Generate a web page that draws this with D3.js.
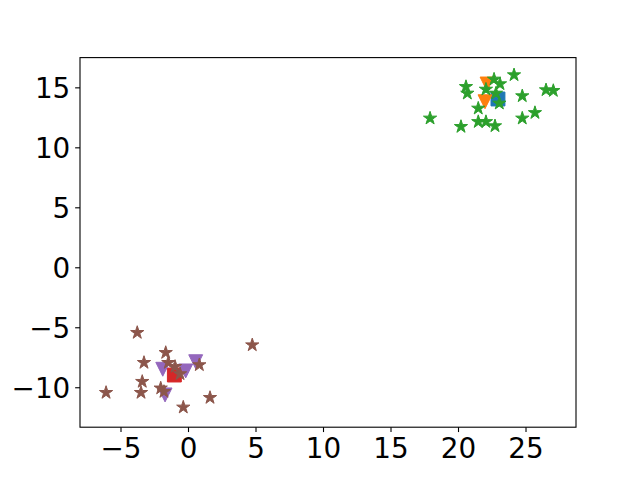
<!DOCTYPE html>
<html>
<head>
<meta charset="utf-8">
<script src="https://cdn.jsdelivr.net/npm/d3@7"></script>
<style>
  body { margin: 0; background: #fff; }
  svg { display: block; }
</style>
</head>
<body>
<script>
// cluster A (top right)
const blueSquares = [[22.96, 14.03]];
const orangeTriangles = [[22.0, 13.8], [22.15, 15.28]];
const greenStars = [
  [17.93, 12.42], [20.22, 11.72], [20.59, 15.05], [20.69, 14.5], [21.5, 13.25],
  [21.5, 12.13], [22.07, 12.13], [22.74, 11.78], [22.67, 15.67], [23.11, 15.28],
  [22.07, 14.83], [22.81, 14.5], [23.06, 13.67], [24.15, 16.03], [24.76, 14.28],
  [24.76, 12.42], [25.7, 12.88], [26.52, 14.78], [27.06, 14.72]
];
// cluster B (bottom left)
const redSquares = [[-1.01, -8.98]];
const purpleTriangles = [[-1.87, -8.5], [-0.17, -8.64], [0.57, -7.87], [-1.7, -10.64]];
const brownStars = [
  [-3.76, -5.45], [4.76, -6.48], [-1.65, -7.12], [-3.26, -7.95], [-1.46, -7.95],
  [-0.96, -8.28], [-0.59, -8.89], [0.84, -8.14], [-3.39, -9.53], [-3.48, -10.45],
  [-6.07, -10.45], [-2.02, -10.08], [-1.78, -10.37], [1.63, -10.87], [-0.35, -11.67]
];
const xTicks = [-5, 0, 5, 10, 15, 20, 25];
const yTicks = [-10, -5, 0, 5, 10, 15];

const W = 640, H = 480;
const margin = { top: 57.6, right: 64, bottom: 52.8, left: 80 };

const svg = d3.select('body').append('svg')
  .attr('width', W)
  .attr('height', H);

const x = d3.scaleLinear().domain([-8.0, 28.74]).range([margin.left, W - margin.right]);
const y = d3.scaleLinear().domain([-13.33, 17.48]).range([H - margin.bottom, margin.top]);

const S = 13.9; // marker size in px (s=100)

// marker paths centred on 0,0
function starPath(r) {
  const ri = r * 0.381966;
  let p = '';
  for (let i = 0; i < 10; i++) {
    const a = Math.PI / 5 * i;
    const rr = i % 2 === 0 ? r : ri;
    p += (i ? 'L' : 'M') + (rr * Math.sin(a)).toFixed(3) + ',' + (-rr * Math.cos(a)).toFixed(3);
  }
  return p + 'Z';
}
const shapes = {
  square: `M${-S/2},${-S/2}H${S/2}V${S/2}H${-S/2}Z`,
  triDown: `M0,${S/2}L${-S/2},${-S/2}L${S/2},${-S/2}Z`,
  star: starPath(S / 2)
};

function drawSet(data, shape, color) {
  svg.append('g').selectAll('path')
    .data(data)
    .join('path')
    .attr('d', shapes[shape])
    .attr('transform', d => `translate(${x(d[0])},${y(d[1])})`)
    .attr('fill', color)
    .attr('stroke', color)
    .attr('stroke-width', 1);
}

drawSet(blueSquares, 'square', '#1f77b4');
drawSet(orangeTriangles, 'triDown', '#ff7f0e');
drawSet(greenStars, 'star', '#2ca02c');
drawSet(redSquares, 'square', '#d62728');
drawSet(purpleTriangles, 'triDown', '#9467bd');
drawSet(brownStars, 'star', '#8c564b');

// axes
const fmt = d => d3.format('d')(d);
const xAxis = svg.append('g')
  .attr('transform', `translate(0,${H - margin.bottom})`)
  .call(d3.axisBottom(x).tickValues(xTicks).tickFormat(fmt).tickSize(4.86).tickPadding(4.86));
const yAxis = svg.append('g')
  .attr('transform', `translate(${margin.left},0)`)
  .call(d3.axisLeft(y).tickValues(yTicks).tickFormat(fmt).tickSize(4.86).tickPadding(4.86));

[xAxis, yAxis].forEach(g => {
  g.select('.domain').remove();
  g.selectAll('line').attr('stroke', '#000').attr('stroke-width', 1.1);
  g.selectAll('text')
    .attr('font-family', 'DejaVu Sans')
    .attr('font-size', 27.8)
    .attr('fill', '#000');
});
xAxis.selectAll('text').attr('dy', '0.76em');
yAxis.selectAll('text').attr('dy', '0.36em');

// frame
svg.append('rect')
  .attr('x', margin.left)
  .attr('y', margin.top)
  .attr('width', W - margin.left - margin.right)
  .attr('height', H - margin.top - margin.bottom)
  .attr('fill', 'none')
  .attr('stroke', '#000')
  .attr('stroke-width', 1.1);
</script>
</body>
</html>
